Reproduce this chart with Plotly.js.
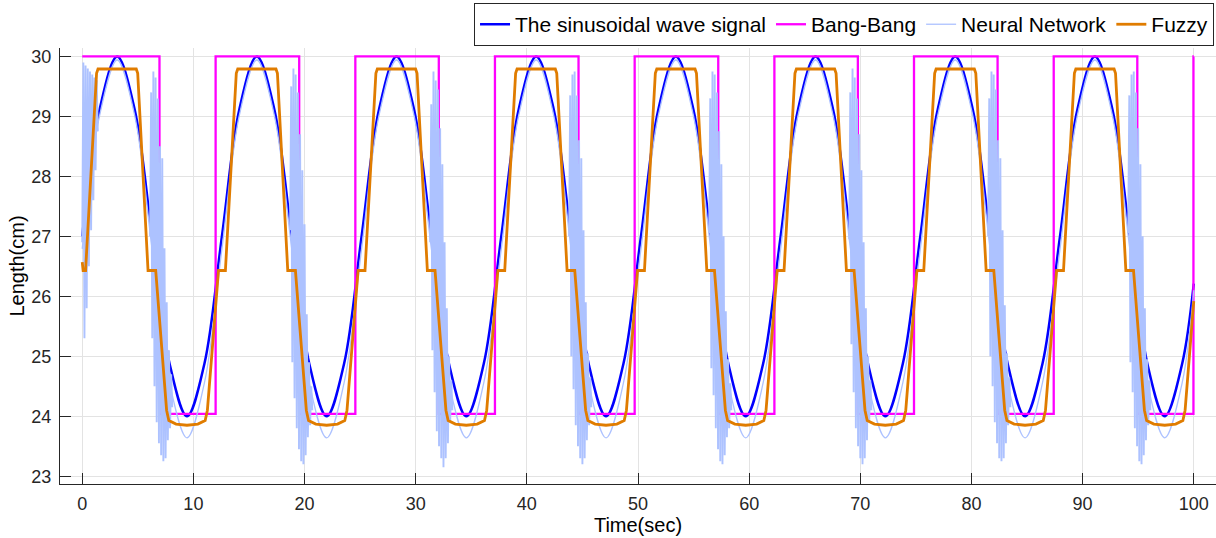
<!DOCTYPE html>
<html>
<head>
<meta charset="utf-8">
<script src="https://cdn.plot.ly/plotly-3.0.1.min.js"></script>
<style>html,body{margin:0;padding:0;background:#fff;}#chart{width:1216px;height:538px;}</style>
</head>
<body>
<div id="chart"></div>
<script>
// ---- Data ----
const seriesNames = ['The sinusoidal wave signal', 'Bang-Bang', 'Neural Network', 'Fuzzy'];
const xTicks = [0, 10, 20, 30, 40, 50, 60, 70, 80, 90, 100];
const yTicks = [23, 24, 25, 26, 27, 28, 29, 30];

// reference sinusoid (sampled every quarter-turn of phase)
const sigTime = [0, 1.571, 3.142, 4.712, 6.283, 7.854, 9.425, 10.996,
  12.566, 14.137, 15.708, 17.279, 18.850, 20.420, 21.991, 23.562,
  25.133, 26.704, 28.274, 29.845, 31.416, 32.987, 34.558, 36.128,
  37.699, 39.270, 40.841, 42.412, 43.982, 45.553, 47.124, 48.695,
  50.265, 51.836, 53.407, 54.978, 56.549, 58.119, 59.690, 61.261,
  62.832, 64.403, 65.973, 67.544, 69.115, 70.686, 72.257, 73.827,
  75.398, 76.969, 78.540, 80.111, 81.681, 83.252, 84.823, 86.394,
  87.965, 89.535, 91.106, 92.677, 94.248, 95.819, 97.389, 98.960, 100];
const sigValue = [27, 29.12, 30, 29.12, 27, 24.88, 24, 24.88,
  27, 29.12, 30, 29.12, 27, 24.88, 24, 24.88,
  27, 29.12, 30, 29.12, 27, 24.88, 24, 24.88,
  27, 29.12, 30, 29.12, 27, 24.88, 24, 24.88,
  27, 29.12, 30, 29.12, 27, 24.88, 24, 24.88,
  27, 29.12, 30, 29.12, 27, 24.88, 24, 24.88,
  27, 29.12, 30, 29.12, 27, 24.88, 24, 24.88,
  27, 29.12, 30, 29.12, 27, 24.88, 24, 24.88, 26.21];

// Bang-Bang switching instants and levels (step after each instant)
const bbTime = [0, 6.95, 12.00, 19.52, 24.57, 32.08, 37.13, 44.65, 49.70,
  57.22, 62.27, 69.78, 74.83, 82.35, 87.40, 94.92, 99.97, 100];
const bbLevel = [30, 24.04, 30, 24.04, 30, 24.04, 30, 24.04, 30,
  24.04, 30, 24.04, 30, 24.04, 30, 24.04, 30, 30];

// Neural network: smooth tracking part
const nnValue = [26.79, 29.02, 29.94, 29.02, 26.79, 24.56, 23.64, 24.56,
  26.79, 29.02, 29.94, 29.02, 26.79, 24.56, 23.64, 24.56,
  26.79, 29.02, 29.94, 29.02, 26.79, 24.56, 23.64, 24.56,
  26.79, 29.02, 29.94, 29.02, 26.79, 24.56, 23.64, 24.56,
  26.79, 29.02, 29.94, 29.02, 26.79, 24.56, 23.64, 24.56,
  26.79, 29.02, 29.94, 29.02, 26.79, 24.56, 23.64, 24.56,
  26.79, 29.02, 29.94, 29.02, 26.79, 24.56, 23.64, 24.56,
  26.79, 29.02, 29.94, 29.02, 26.79, 24.56, 23.64, 24.56, 26.1];

// Neural network: chattering bursts (null separates bursts)
const nnChatterTime = [
  0, 0.1, 0.2, 0.3, 0.4, 0.5, 0.6, 0.7, 0.8, 0.9, 1.0, 1.1, 1.2, 1.3, 1.4, null,
  6.1, 6.2, 6.3, 6.4, 6.5, 6.6, 6.7, 6.8, 6.9, 7.0, 7.1, 7.2, 7.3, 7.4, 7.5, 7.6, 7.7, 7.8, 7.9, 8.0, 8.1, null,
  18.7, 18.8, 18.9, 19.0, 19.1, 19.2, 19.3, 19.4, 19.5, 19.6, 19.7, 19.8, 19.9, 20.0, 20.1, 20.2, 20.3, 20.4, 20.5, 20.6, 20.7, null,
  31.3, 31.4, 31.5, 31.6, 31.7, 31.8, 31.9, 32.0, 32.1, 32.2, 32.3, 32.4, 32.5, 32.6, 32.7, 32.8, 32.9, 33.0, 33.1, 33.2, 33.3, null,
  43.8, 43.9, 44.0, 44.1, 44.2, 44.3, 44.4, 44.5, 44.6, 44.7, 44.8, 44.9, 45.0, 45.1, 45.2, 45.3, 45.4, 45.5, 45.6, 45.7, 45.8, null,
  56.4, 56.5, 56.6, 56.7, 56.8, 56.9, 57.0, 57.1, 57.2, 57.3, 57.4, 57.5, 57.6, 57.7, 57.8, 57.9, 58.0, 58.1, 58.2, 58.3, 58.4, null,
  69.0, 69.1, 69.2, 69.3, 69.4, 69.5, 69.6, 69.7, 69.8, 69.9, 70.0, 70.1, 70.2, 70.3, 70.4, 70.5, 70.6, 70.7, 70.8, 70.9, 71.0, null,
  81.5, 81.6, 81.7, 81.8, 81.9, 82.0, 82.1, 82.2, 82.3, 82.4, 82.5, 82.6, 82.7, 82.8, 82.9, 83.0, 83.1, 83.2, 83.3, 83.4, 83.5, null,
  94.1, 94.2, 94.3, 94.4, 94.5, 94.6, 94.7, 94.8, 94.9, 95.0, 95.1, 95.2, 95.3, 95.4, 95.5, 95.6, 95.7, 95.8, 95.9, 96.0, 96.1];
const nnChatterValue = [
  26.9, 29.9, 25.3, 29.85, 25.8, 29.8, 26.5, 29.75, 27.1, 29.7, 27.6, 29.65, 28.1, 29.6, 28.75, null,
  27.0, 29.4, 25.3, 29.75, 24.5, 29.65, 23.9, 29.3, 23.55, 28.5, 23.35, 28.3, 23.25, 26.8, 23.3, 25.9, 23.6, 25.1, 23.8, 24.7, 24.15, null,
  27.1, 29.5, 24.9, 29.8, 24.3, 29.7, 23.8, 29.4, 23.45, 28.7, 23.25, 28.1, 23.2, 27.2, 23.35, 25.7, 23.65, 24.9, 23.85, 24.5, 24.1, null,
  26.9, 29.2, 25.1, 29.75, 24.4, 29.6, 23.75, 29.45, 23.5, 28.8, 23.3, 28.2, 23.15, 26.9, 23.3, 25.8, 23.55, 25.0, 23.9, 24.6, 24.1, null,
  27.0, 29.35, 25.0, 29.7, 24.45, 29.75, 23.85, 29.35, 23.5, 28.6, 23.3, 28.3, 23.2, 27.1, 23.3, 25.9, 23.6, 25.05, 23.85, 24.65, 24.15, null,
  27.05, 29.3, 24.8, 29.75, 24.35, 29.7, 23.8, 29.4, 23.45, 28.75, 23.25, 28.2, 23.2, 27.0, 23.35, 25.75, 23.65, 24.95, 23.8, 24.55, 24.1, null,
  26.95, 29.4, 25.2, 29.8, 24.4, 29.65, 23.8, 29.3, 23.5, 28.7, 23.3, 28.1, 23.2, 26.9, 23.3, 25.8, 23.6, 25.0, 23.9, 24.6, 24.1, null,
  27.0, 29.3, 25.0, 29.75, 24.5, 29.7, 23.9, 29.45, 23.55, 28.6, 23.3, 28.3, 23.25, 27.1, 23.3, 25.85, 23.55, 25.05, 23.85, 24.65, 24.15, null,
  27.05, 29.35, 24.9, 29.7, 24.4, 29.75, 23.8, 29.4, 23.5, 28.8, 23.25, 28.2, 23.2, 27.0, 23.35, 25.8, 23.6, 24.95, 23.85, 24.6, 24.1];

// Fuzzy controller output (breakpoints)
const fuzzyTime = [0, 0.08, 0.30, 1.29, 1.42,
  4.86, 4.99, 5.92, 6.61, 7.59, 7.79, 8.44, 9.42, 10.40,
  11.06, 11.26, 12.26, 12.88, 13.86, 13.99, 17.43, 17.56, 18.49, 19.18, 20.16, 20.36, 21.01, 21.99, 22.97,
  23.62, 23.82, 24.82, 25.44, 26.42, 26.55, 29.99, 30.12, 31.05, 31.74, 32.72, 32.92, 33.57, 34.55, 35.53,
  36.19, 36.39, 37.39, 38.01, 38.99, 39.12, 42.56, 42.69, 43.62, 44.31, 45.29, 45.49, 46.14, 47.12, 48.10,
  48.76, 48.96, 49.96, 50.58, 51.56, 51.69, 55.13, 55.26, 56.19, 56.88, 57.86, 58.06, 58.71, 59.69, 60.67,
  61.32, 61.52, 62.52, 63.14, 64.12, 64.25, 67.69, 67.82, 68.75, 69.44, 70.42, 70.62, 71.27, 72.25, 73.23,
  73.89, 74.09, 75.09, 75.71, 76.69, 76.82, 80.26, 80.39, 81.32, 82.01, 82.99, 83.19, 83.84, 84.82, 85.80,
  86.46, 86.66, 87.66, 88.28, 89.26, 89.39, 92.83, 92.96, 93.89, 94.58, 95.56, 95.76, 96.41, 97.39, 98.37,
  99.02, 99.22, 100];
const fuzzyValue = [26.57, 26.43, 26.43, 29.72, 29.79,
  29.79, 29.72, 26.43, 26.43, 24.1, 23.93, 23.87, 23.85, 23.87,
  23.93, 24.1, 26.43, 26.43, 29.72, 29.79, 29.79, 29.72, 26.43, 26.43, 24.1, 23.93, 23.87, 23.85, 23.87,
  23.93, 24.1, 26.43, 26.43, 29.72, 29.79, 29.79, 29.72, 26.43, 26.43, 24.1, 23.93, 23.87, 23.85, 23.87,
  23.93, 24.1, 26.43, 26.43, 29.72, 29.79, 29.79, 29.72, 26.43, 26.43, 24.1, 23.93, 23.87, 23.85, 23.87,
  23.93, 24.1, 26.43, 26.43, 29.72, 29.79, 29.79, 29.72, 26.43, 26.43, 24.1, 23.93, 23.87, 23.85, 23.87,
  23.93, 24.1, 26.43, 26.43, 29.72, 29.79, 29.79, 29.72, 26.43, 26.43, 24.1, 23.93, 23.87, 23.85, 23.87,
  23.93, 24.1, 26.43, 26.43, 29.72, 29.79, 29.79, 29.72, 26.43, 26.43, 24.1, 23.93, 23.87, 23.85, 23.87,
  23.93, 24.1, 26.43, 26.43, 29.72, 29.79, 29.79, 29.72, 26.43, 26.43, 24.1, 23.93, 23.87, 23.85, 23.87,
  23.93, 24.1, 25.92];

// ---- Styles ----
const colors = {sig: '#0000ff', bb: '#ff00ff', nn: '#adc2ff', fz: '#e07c00'};
const axisColor = '#262626';
const gridColor = '#e3e3e3';
const fontFamily = '"Liberation Sans", Arial, Helvetica, sans-serif';

const traces = [
  {x: sigTime, y: sigValue, type: 'scatter', mode: 'lines', name: seriesNames[0],
   line: {color: colors.sig, width: 2.5, shape: 'spline', smoothing: 1}},
  {x: bbTime, y: bbLevel, type: 'scatter', mode: 'lines', name: seriesNames[1],
   line: {color: colors.bb, width: 2.3, shape: 'hv'}},
  {x: sigTime, y: nnValue, type: 'scatter', mode: 'lines', name: seriesNames[2],
   line: {color: colors.nn, width: 1.3, shape: 'spline', smoothing: 1}},
  {x: nnChatterTime, y: nnChatterValue, type: 'scatter', mode: 'lines', name: seriesNames[2],
   showlegend: false, connectgaps: false, line: {color: colors.nn, width: 1.9}},
  {x: fuzzyTime, y: fuzzyValue, type: 'scatter', mode: 'lines', name: seriesNames[3],
   line: {color: colors.fz, width: 2.8}}
];

const layout = {
  width: 1216, height: 538,
  margin: {l: 60, r: 0, t: 48, b: 54, pad: 0},
  paper_bgcolor: '#ffffff', plot_bgcolor: '#ffffff',
  font: {family: fontFamily, size: 17, color: axisColor},
  showlegend: true,
  legend: {orientation: 'h', x: 0.9983, xanchor: 'right', y: 1.103, yanchor: 'top',
    bordercolor: axisColor, borderwidth: 1, bgcolor: '#ffffff',
    font: {family: fontFamily, size: 21, color: '#000000'}, traceorder: 'normal'},
  xaxis: {range: [-2, 102], tickvals: xTicks, ticktext: xTicks.map(String),
    showgrid: true, gridcolor: gridColor, gridwidth: 1, zeroline: false,
    showline: true, linecolor: axisColor, linewidth: 1, mirror: false,
    ticks: 'inside', ticklen: 11, tickwidth: 1, tickcolor: axisColor,
    ticklabelstandoff: 3, tickfont: {size: 18, color: axisColor},
    title: {text: 'Time(sec)', font: {size: 20, color: '#000000'}, standoff: 5}},
  yaxis: {range: [22.87, 30.14], tickvals: yTicks, ticktext: yTicks.map(String),
    showgrid: true, gridcolor: gridColor, gridwidth: 1, zeroline: false,
    showline: true, linecolor: axisColor, linewidth: 1, mirror: false,
    ticks: 'inside', ticklen: 11, tickwidth: 1, tickcolor: axisColor,
    ticklabelstandoff: 4, tickfont: {size: 18, color: axisColor},
    title: {text: 'Length(cm)', font: {size: 20, color: '#000000'}, standoff: 1}}
};

Plotly.newPlot('chart', traces, layout, {displayModeBar: false, staticPlot: true});
</script>
</body>
</html>
